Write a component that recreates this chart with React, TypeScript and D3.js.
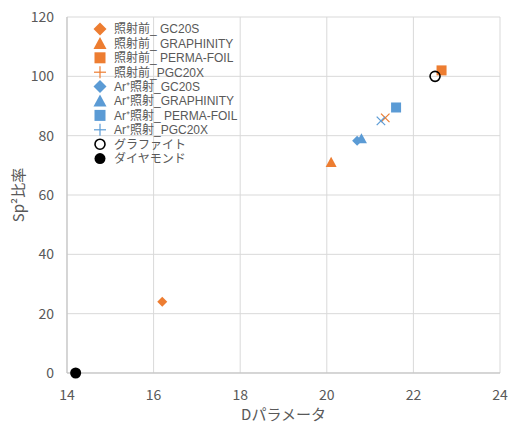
import React from "react";
import * as d3 from "d3";

// values
const seriesNames = [
  "照射前_ GC20S",
  "照射前_ GRAPHINITY",
  "照射前_ PERMA-FOIL",
  "照射前_PGC20X",
  "Ar⁺照射_GC20S",
  "Ar⁺照射_GRAPHINITY",
  "Ar⁺照射_ PERMA-FOIL",
  "Ar⁺照射_PGC20X",
  "グラファイト",
  "ダイヤモンド",
];
const dParam = [16.2, 20.1, 22.65, 21.35, 20.7, 20.8, 21.6, 21.25, 22.5, 14.2];
const sp2Ratio = [24, 71, 102, 86, 78.3, 79, 89.5, 85, 100, 0];
const xTicks = [14, 16, 18, 20, 22, 24];
const yTicks = [0, 20, 40, 60, 80, 100, 120];

const ORANGE = "#ED7D31";
const BLUE = "#5B9BD5";
const markerStyle = [
  { shape: "diamond", color: ORANGE },
  { shape: "triangle", color: ORANGE },
  { shape: "square", color: ORANGE },
  { shape: "plus", color: ORANGE },
  { shape: "diamond", color: BLUE },
  { shape: "triangle", color: BLUE },
  { shape: "square", color: BLUE },
  { shape: "plus", color: BLUE },
  { shape: "open", color: "#000" },
  { shape: "dot", color: "#000" },
];

const font = "'Noto Sans CJK JP', 'Noto Sans', sans-serif";
const legendFont = "'Liberation Sans', 'Noto Sans CJK JP', sans-serif";

const Marker = ({ shape, color, cx, cy, legend }) => {
  if (shape === "diamond") {
    const s = legend ? 6.5 : 5;
    const d = d3.line()([[0, -s], [s, 0], [0, s], [-s, 0]]) + "Z";
    return <path d={d} transform={`translate(${cx},${cy})`} fill={color} />;
  }
  if (shape === "triangle") {
    const s = legend ? 6.5 : 5.5;
    const d = d3.line()([[0, -s], [s, s * 0.85], [-s, s * 0.85]]) + "Z";
    return <path d={d} transform={`translate(${cx},${cy})`} fill={color} />;
  }
  if (shape === "square") {
    const s = legend ? 5.5 : 5;
    return <rect x={cx - s} y={cy - s} width={2 * s} height={2 * s} fill={color} />;
  }
  if (shape === "plus") {
    // drawn as "+" in the legend, "×" on the plot
    const rot = legend ? 0 : 45;
    return (
      <g transform={`translate(${cx},${cy}) rotate(${rot})`} stroke={color} strokeWidth={1.2}>
        <line x1={-6} x2={6} y1={0} y2={0} />
        <line x1={0} x2={0} y1={-6} y2={6} />
      </g>
    );
  }
  if (shape === "open") {
    return <circle cx={cx} cy={cy} r={5} fill="none" stroke={color} strokeWidth={1.6} />;
  }
  return <circle cx={cx} cy={cy} r={5.5} fill={color} />;
};

const App = () => {
  const width = 510;
  const height = 430;
  const margin = { top: 17, right: 10, bottom: 57, left: 67 };

  const x = d3.scaleLinear().domain([14, 24]).range([margin.left, width - margin.right]);
  const y = d3.scaleLinear().domain([0, 120]).range([height - margin.bottom, margin.top]);

  return (
    <svg
      width={width}
      height={height}
      style={{ position: "absolute", left: 0, top: 0, fontFamily: font }}
    >
      <rect width={width} height={height} fill="#fff" />
      {yTicks.map((t) => (
        <g key={"y" + t}>
          <line x1={x(14)} x2={x(24)} y1={y(t)} y2={y(t)} stroke="#d9d9d9" strokeWidth={1} />
          <text x={x(14) - 13} y={y(t)} dy="0.35em" textAnchor="end" fontSize={14} fill="#595959">
            {t}
          </text>
        </g>
      ))}
      {xTicks.map((t) => (
        <g key={"x" + t}>
          <line x1={x(t)} x2={x(t)} y1={y(0)} y2={y(120)} stroke="#d9d9d9" strokeWidth={1} />
          <text x={x(t)} y={y(0) + 27} textAnchor="middle" fontSize={14} fill="#595959">
            {t}
          </text>
        </g>
      ))}
      <line x1={x(14)} x2={x(14)} y1={y(0)} y2={y(120)} stroke="#bfbfbf" />
      <line x1={x(14)} x2={x(24)} y1={y(0)} y2={y(0)} stroke="#bfbfbf" />

      <text x={x(19)} y={height - 10} textAnchor="middle" fontSize={15} fill="#595959">
        Dパラメータ
      </text>
      <text
        transform={`translate(24,${y(60)}) rotate(-90)`}
        textAnchor="middle"
        fontSize={15}
        fill="#595959"
      >
        Sp²比率
      </text>

      {seriesNames.map((name, i) => (
        <Marker
          key={"m" + i}
          shape={markerStyle[i].shape}
          color={markerStyle[i].color}
          cx={x(dParam[i])}
          cy={y(sp2Ratio[i])}
          legend={false}
        />
      ))}

      {seriesNames.map((name, i) => {
        const ly = 29 + i * 14.4;
        return (
          <g key={"l" + i}>
            <Marker
              shape={markerStyle[i].shape}
              color={markerStyle[i].color}
              cx={100}
              cy={ly}
              legend={true}
            />
            <text
              x={114}
              y={ly}
              dy="0.36em"
              fontSize={12}
              fill="#595959"
              fontFamily={legendFont}
            >
              {name}
            </text>
          </g>
        );
      })}
    </svg>
  );
};

export default App;
